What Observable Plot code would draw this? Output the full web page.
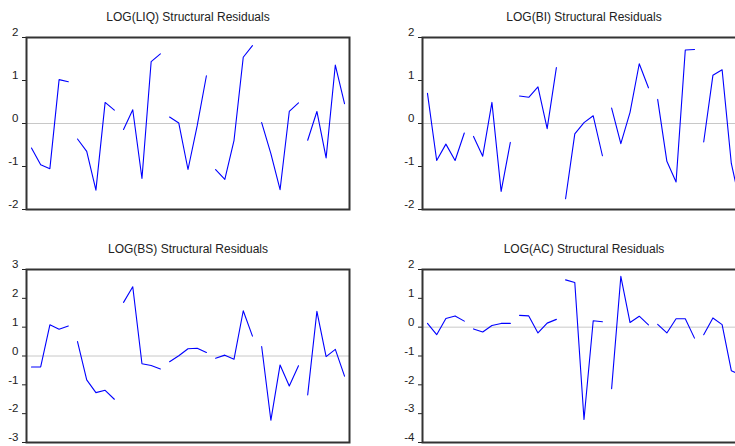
<!DOCTYPE html>
<html>
<head>
<meta charset="utf-8">
<script src="https://cdn.jsdelivr.net/npm/d3@7"></script>
<script src="https://cdn.jsdelivr.net/npm/@observablehq/plot@0.6"></script>
<style>
  html, body { margin: 0; padding: 0; background: #fff; }
  #wrap { position: relative; width: 735px; height: 446px; overflow: hidden; background: #fff; }
  .panel { position: absolute; }
</style>
</head>
<body>
<div id="wrap"></div>
<script>
const titles = ["LOG(LIQ) Structural Residuals", "LOG(BI) Structural Residuals", "LOG(BS) Structural Residuals", "LOG(AC) Structural Residuals"];
// 7 cross-sections x 5 periods, line broken between cross-sections
const groups = [1,1,1,1,1, 2,2,2,2,2, 3,3,3,3,3, 4,4,4,4,4, 5,5,5,5,5, 6,6,6,6,6, 7,7,7,7,7];
const liq = [-0.57,-0.96,-1.05,1.02,0.97, -0.36,-0.65,-1.55,0.49,0.31, -0.14,0.32,-1.28,1.44,1.62, 0.15,0.01,-1.07,-0.05,1.11, -1.07,-1.30,-0.39,1.54,1.81, 0.02,-0.70,-1.54,0.28,0.48, -0.39,0.28,-0.80,1.36,0.46];
const bi = [0.70,-0.86,-0.48,-0.86,-0.22, -0.30,-0.76,0.49,-1.58,-0.44, 0.64,0.61,0.85,-0.12,1.30, -1.75,-0.24,0.02,0.18,-0.75, 0.36,-0.47,0.26,1.39,0.83, 0.56,-0.88,-1.36,1.71,1.72, -0.43,1.12,1.25,-0.93,-1.90];
const bs = [-0.38,-0.38,1.08,0.93,1.04, 0.50,-0.83,-1.27,-1.19,-1.50, 1.86,2.40,-0.27,-0.33,-0.45, -0.20,0.01,0.25,0.27,0.12, -0.08,0.03,-0.11,1.57,0.69, 0.33,-2.23,-0.31,-1.04,-0.34, -1.35,1.55,-0.02,0.23,-0.70];
const ac = [0.13,-0.26,0.30,0.39,0.21, -0.06,-0.17,0.06,0.13,0.13, 0.41,0.39,-0.20,0.14,0.27, 1.64,1.55,-3.20,0.22,0.19, -2.13,1.76,0.16,0.38,0.08, 0.10,-0.20,0.29,0.29,-0.38, -0.26,0.32,0.09,-1.51,-1.65];
const yDomains = [[-2, 2], [-2, 2], [-3, 3], [-4, 2]];
const yTicks = [[-2,-1,0,1,2], [-2,-1,0,1,2], [-3,-2,-1,0,1,2,3], [-4,-3,-2,-1,0,1,2]];
const series = [liq, bi, bs, ac];
const positions = [[0, 0, 220], [396, 0, 220], [0, 232, 221], [396, 232, 221]];

const wrap = document.getElementById("wrap");
series.forEach((vals, k) => {
  const data = vals.map((v, i) => ({obs: i + 1, cs: groups[i], v}));
  const [left, top, h] = positions[k];
  const chart = Plot.plot({
    width: 360,
    height: h,
    marginLeft: 26,
    marginRight: 11,
    marginTop: 37,
    marginBottom: 11,
    style: {fontFamily: "Liberation Sans, Arial, sans-serif", fontSize: "11.5px", color: "#222", background: "#fff", overflow: "visible"},
    x: {domain: [0.46, 35.54], axis: null},
    y: {domain: yDomains[k], ticks: yTicks[k], tickSize: 4, tickPadding: 4, tickFormat: d => String(d), label: null},
    marks: [
      Plot.ruleY([0], {stroke: "#c8c8c8", strokeWidth: 1}),
      Plot.line(data, {x: "obs", y: "v", z: "cs", stroke: "#0000ff", strokeWidth: 1.1, clip: true}),
      Plot.frame({stroke: "#333", strokeWidth: 2}),
      Plot.text([titles[k]], {frameAnchor: "top", dy: -25, fontSize: 12, fill: "#222"})
    ]
  });
  // nudge tick labels slightly above their ticks (as in the reference)
  const labels = new Set(yTicks[k].map(String));
  chart.querySelectorAll("text").forEach(t => {
    if (labels.has(t.textContent.trim().replace("\u2212", "-"))) {
      const y0 = parseFloat(t.getAttribute("y") || "0");
      t.setAttribute("y", y0 - 1.5);
    }
  });
  chart.classList.add("panel");
  chart.style.left = left + "px";
  chart.style.top = top + "px";
  wrap.appendChild(chart);
});
</script>
</body>
</html>
